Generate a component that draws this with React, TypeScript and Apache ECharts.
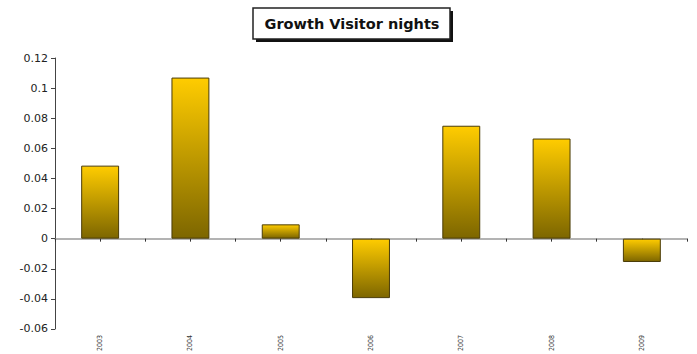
import React, { useEffect, useRef } from "react";
import * as echarts from "echarts";

const titleText = "Growth Visitor nights";
const years = ["2003", "2004", "2005", "2006", "2007", "2008", "2009"];
const growth = [0.0485, 0.107, 0.0095, -0.0395, 0.075, 0.0665, -0.0155];
const yMin = -0.06;
const yMax = 0.12;
const yStep = 0.02;

export default function App() {
  const ref = useRef<HTMLDivElement>(null);
  useEffect(() => {
    if (!ref.current) return;
    const chart = echarts.init(ref.current, undefined, { renderer: "svg" });
    const font = "'DejaVu Sans', sans-serif";
    chart.setOption({
      animation: false,
      backgroundColor: "#ffffff",
      graphic: [
        { type: "rect", shape: { x: 256, y: 11, width: 197, height: 31 }, style: { fill: "#111" } },
        { type: "rect", shape: { x: 253, y: 8, width: 197, height: 31 }, style: { fill: "#fff", stroke: "#222", lineWidth: 1.5 } },
        {
          type: "text",
          x: 352,
          y: 24,
          style: {
            text: titleText,
            font: "bold 14.5px " + font,
            fill: "#111",
            align: "center",
            verticalAlign: "middle",
          },
        },
      ],
      grid: { left: 55, right: 10, top: 58, bottom: 25, containLabel: false },
      xAxis: [
        {
          type: "category",
          data: years,
          position: "bottom",
          axisLine: { onZero: true, lineStyle: { color: "#9a9a9a", width: 1.5 } },
          axisTick: { show: true, length: 3, lineStyle: { color: "#333" } },
          axisLabel: { show: false },
        },
        {
          type: "category",
          data: years,
          position: "bottom",
          axisLine: { show: false, onZero: false },
          axisTick: { show: false },
          axisLabel: {
            rotate: 90,
            fontSize: 7,
            margin: 6,
            color: "#333",
            fontFamily: "'DejaVu Sans Condensed', 'DejaVu Sans', sans-serif",
          },
        },
        {
          type: "category",
          data: years,
          position: "top",
          axisLine: { show: false, onZero: true, onZeroAxisIndex: 1 },
          axisTick: { show: true, inside: true, alignWithLabel: true, length: 3, lineStyle: { color: "#333" } },
          axisLabel: { show: false },
        },
      ],
      yAxis: [
        {
          type: "value",
          min: yMin,
          max: yMax,
          interval: yStep,
          splitLine: { show: false },
          axisLine: { show: true, lineStyle: { color: "#444", width: 1 } },
          axisTick: { show: true, length: 4, lineStyle: { color: "#444" } },
          axisLabel: {
            fontSize: 11,
            margin: 7,
            color: "#222",
            fontFamily: font,
            formatter: (v: number) => String(parseFloat(v.toFixed(2))),
          },
        },
        {
          type: "value",
          min: yMin,
          max: yMax,
          interval: yStep,
          show: false,
        },
      ],
      series: [
        {
          type: "bar",
          xAxisIndex: 0,
          yAxisIndex: 0,
          data: growth,
          barWidth: "42%",
          itemStyle: {
            color: new echarts.graphic.LinearGradient(0, 0, 0, 1, [
              { offset: 0, color: "#ffcc00" },
              { offset: 1, color: "#7d6600" },
            ]),
            borderColor: "#4a3c08",
            borderWidth: 1,
          },
        },
      ],
    });
    return () => chart.dispose();
  }, []);
  return (
    <div
      ref={ref}
      style={{ position: "absolute", left: 0, top: 0, width: 697, height: 354 }}
    />
  );
}
